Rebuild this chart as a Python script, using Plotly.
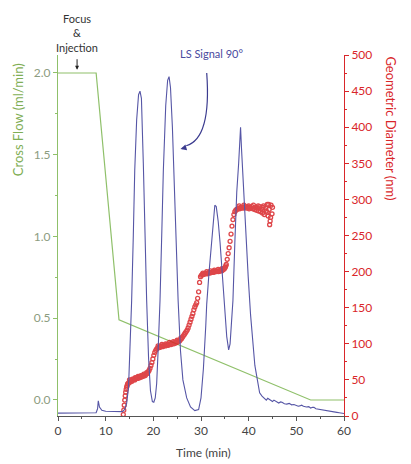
import plotly.graph_objects as go

# ---------------- data ----------------
flow_time = [0, 8.0, 12.8, 53.0, 60]
flow_vals = [2.0, 2.0, 0.49, 0.0, 0.0]

ls_time = [0, 4, 8.0, 8.3, 8.45, 8.7, 9.2, 10, 12, 13.5, 14.0, 14.4, 14.8, 15.2, 15.45, 15.8, 16.1, 16.5, 16.9,
           17.2, 17.5, 17.9, 18.2, 18.6, 19.0, 19.4, 19.8, 20.1, 20.4, 20.7, 21.0, 21.4, 21.8, 22.1, 22.6, 23.0,
           23.3, 23.6, 24.0, 24.3, 24.7, 25.2, 25.7, 26.2, 27.0, 27.8, 28.7, 29.5, 30.0, 30.5, 31.0, 31.2, 31.7,
           32.2, 32.6, 32.9, 33.2, 33.6, 34.0, 34.5, 35.0, 35.4, 35.8, 36.1, 36.4, 36.7, 37.1, 37.5, 37.9, 38.1,
           38.3, 38.5, 38.8, 39.2, 39.5, 39.9, 40.4, 40.9, 41.3, 41.7, 42.0, 42.3, 42.8, 43.3, 43.7, 44.0, 44.4,
           44.7, 45.0, 45.3, 45.6, 46.0, 46.3, 46.7, 47.0, 47.5, 48.0, 48.5, 49.0, 49.5, 50.0, 50.4, 50.7, 51.1,
           51.5, 52.1, 52.6, 53.0, 53.4, 53.7, 54.1, 54.5, 55.0, 55.5, 56.0, 56.5, 57.0, 57.5, 58.0, 58.5, 59.0,
           59.5, 60.0]
ls_vals = [0.008, 0.008, 0.009, 0.02, 0.042, 0.025, 0.016, 0.013, 0.012, 0.012, 0.018, 0.035, 0.08, 0.2, 0.32,
           0.50, 0.68, 0.82, 0.89, 0.90, 0.88, 0.70, 0.52, 0.32, 0.16, 0.07, 0.04, 0.038, 0.05, 0.09, 0.18, 0.32,
           0.52, 0.68, 0.86, 0.93, 0.94, 0.91, 0.80, 0.68, 0.50, 0.32, 0.18, 0.10, 0.05, 0.025, 0.015, 0.018,
           0.05, 0.13, 0.25, 0.31, 0.40, 0.48, 0.56, 0.584, 0.58, 0.54, 0.48, 0.38, 0.29, 0.22, 0.183, 0.20, 0.26,
           0.32, 0.48, 0.62, 0.70, 0.74, 0.80, 0.74, 0.66, 0.57, 0.47, 0.386, 0.28, 0.20, 0.14, 0.11, 0.08, 0.064,
           0.055, 0.050, 0.044, 0.049, 0.045, 0.041, 0.040, 0.044, 0.042, 0.037, 0.036, 0.039, 0.038, 0.034,
           0.033, 0.035, 0.031, 0.032, 0.030, 0.027, 0.028, 0.030, 0.027, 0.025, 0.026, 0.022, 0.024, 0.024,
           0.020, 0.019, 0.018, 0.016, 0.015, 0.013, 0.012, 0.011, 0.011, 0.010, 0.009, 0.008, 0.007]

dia_time = [13.7, 13.8, 13.9, 14.0, 14.1, 14.2, 14.3, 14.4, 14.5, 14.6, 14.7,
            14.9, 15.1, 15.3, 15.5, 15.7, 15.9, 16.1, 16.3, 16.5, 16.7, 16.9, 17.1, 17.3, 17.5, 17.7, 17.9, 18.1,
            18.3, 18.5, 18.7, 18.9,
            19.1, 19.3, 19.5, 19.7, 19.9, 20.1, 20.3, 20.5, 20.7,
            20.9, 21.1, 21.3, 21.5, 21.7, 21.9, 22.1, 22.3, 22.5, 22.7, 22.9, 23.1, 23.3, 23.5, 23.7, 23.9, 24.1,
            24.3, 24.5, 24.7, 24.9, 25.1, 25.3, 25.5, 25.7, 25.9,
            26.1, 26.3, 26.5, 26.7, 26.9, 27.1, 27.3, 27.5, 27.7, 27.9, 28.1, 28.3, 28.5, 28.7, 28.9, 29.1, 29.3,
            29.5, 29.7, 29.9,
            30.1, 30.3, 30.5, 30.7, 30.9, 31.1, 31.3, 31.5, 31.7, 31.9, 32.1, 32.3, 32.5, 32.7, 32.9, 33.1, 33.3,
            33.5, 33.7, 33.9, 34.1, 34.3, 34.5, 34.7, 34.9, 35.1,
            35.3, 35.5, 35.7, 35.9, 36.1, 36.3, 36.5, 36.7, 36.9, 37.1, 37.3,
            37.5, 37.7, 37.9, 38.1, 38.3, 38.5, 38.7, 38.9, 39.1, 39.3, 39.5, 39.7, 39.9, 40.1, 40.3, 40.5, 40.7,
            40.9, 41.1, 41.3, 41.5, 41.7, 41.9, 42.1, 42.3, 42.5, 42.7, 42.9, 43.1, 43.3, 43.5, 43.7, 43.9, 44.1,
            44.3, 44.5, 44.7, 44.9, 44.4, 44.6, 45.0, 44.2, 43.9,
            15.0, 15.6, 16.2, 16.8, 17.4, 18.0, 18.6, 21.0, 21.8, 22.6, 23.4, 24.2, 25.0, 25.8,
            30.4, 31.2, 32.0, 32.8, 33.6, 34.4, 35.2, 38.0, 39.0, 40.0, 41.0, 42.0, 43.0]
dia_vals = [2, 8, 15, 22, 28, 33, 37, 40, 42, 44, 45,
            46, 47, 49, 48, 50, 51, 50, 52, 53, 52, 54, 53, 55, 54, 56, 55, 57, 56, 58, 59, 61,
            63, 66, 70, 74, 79, 84, 88, 91, 93,
            94, 95, 95, 96, 97, 96, 97, 98, 97, 98, 99, 98, 99, 100, 99, 100, 101, 100, 102, 101, 102, 103, 104,
            104, 106, 107,
            109, 111, 113, 115, 117, 119, 122, 126, 130, 134, 138, 142, 147, 151, 154, 157, 163, 172, 185, 193,
            195, 196, 196, 197, 197, 198, 197, 198, 199, 198, 199, 199, 200, 199, 200, 201, 200, 201, 200, 201,
            202, 201, 202, 203, 204, 206,
            210, 217, 225, 233, 242, 252, 263, 272, 279, 283, 285,
            286, 287, 288, 287, 289, 288, 289, 288, 290, 289, 288, 290, 289, 287, 289, 288, 290, 287, 288, 286,
            289, 285, 288, 284, 290, 283, 287, 281, 291, 279, 288, 284, 293, 277, 286, 270, 292, 280,
            265, 275, 289, 293, 282,
            50, 51, 53, 55, 56, 58, 60, 97, 99, 100, 102, 103, 105, 108,
            198, 200, 201, 202, 203, 204, 208, 291, 292, 291, 292, 291, 289]

x_ticks = [0, 10, 20, 30, 40, 50, 60]
flow_ticks = [0.0, 0.5, 1.0, 1.5, 2.0]
dia_ticks = [0, 50, 100, 150, 200, 250, 300, 350, 400, 450, 500]

# ---------------- style ----------------
FONT = "Liberation Sans Narrow, Lato, Arial, sans-serif"
GREEN = "#8fc06a"
GREEN_TXT = "#7fae55"
GREEN_TICK = "#8c9c80"
RED = "#d9262a"
BLUE = "#5656a6"
DARK = "#444444"

fig = go.Figure()

fig.add_trace(go.Scatter(x=flow_time, y=flow_vals, mode="lines",
                         line=dict(color=GREEN, width=1.2), yaxis="y", showlegend=False))
fig.add_trace(go.Scatter(x=ls_time, y=ls_vals, mode="lines",
                         line=dict(color=BLUE, width=1.1), yaxis="y3", showlegend=False))
fig.add_trace(go.Scatter(x=dia_time, y=dia_vals, mode="markers",
                         marker=dict(symbol="circle-open", size=4, color=RED, line=dict(width=1.3)),
                         opacity=0.85, yaxis="y2", showlegend=False))

fig.update_layout(
    width=411, height=464,
    margin=dict(l=58, r=67, t=55, b=48),
    paper_bgcolor="white", plot_bgcolor="white",
    font=dict(family=FONT, size=12, color=DARK),
    xaxis=dict(range=[0, 60], tickvals=x_ticks, ticks="outside", ticklen=4, tickcolor="#555",
               showline=True, linecolor="#555", linewidth=1, showgrid=False, zeroline=False,
               tickfont=dict(size=12, color=DARK),
               minor=dict(dtick=5, ticklen=2, tickcolor="#555", ticks="outside")),
    yaxis=dict(range=[-0.098, 2.110], tickvals=flow_ticks, ticktext=["0.0", "0.5", "1.0", "1.5", "2.0"],
               ticks="outside", ticklen=4, tickcolor=GREEN, showline=True, linecolor=GREEN, linewidth=1.2,
               showgrid=False, zeroline=False, tickfont=dict(size=12, color=GREEN_TICK),
               minor=dict(dtick=0.25, tick0=0, ticklen=2, tickcolor=GREEN, ticks="outside")),
    yaxis2=dict(range=[0, 500], tickvals=dia_ticks, overlaying="y", side="right", anchor="x",
                ticks="outside", ticklen=4, tickcolor=RED, showline=True, linecolor=RED, linewidth=1,
                showgrid=False, zeroline=False, tickfont=dict(size=12, color=RED),
                minor=dict(dtick=25, tick0=0, ticklen=2, tickcolor=RED, ticks="outside")),
    yaxis3=dict(range=[0, 1], overlaying="y", visible=False),
)

# axis titles as annotations
fig.add_annotation(text="Cross Flow (ml/min)", xref="paper", yref="paper",
                   x=-0.139, y=0.82, xanchor="center", yanchor="middle", textangle=-90,
                   showarrow=False, font=dict(size=13, color=GREEN_TXT))
fig.add_annotation(text="Geometric Diameter (nm)", xref="paper", yref="paper",
                   x=1.165, y=0.796, xanchor="center", yanchor="middle", textangle=90,
                   showarrow=False, font=dict(size=13, color=RED))
fig.add_annotation(text="Time (min)", xref="paper", yref="paper",
                   x=0.51, y=-0.101, xanchor="center", yanchor="middle",
                   showarrow=False, font=dict(size=12, color=DARK))

# Focus & Injection
fig.add_annotation(text="Focus<br>&<br>Injection", xref="x", yref="paper",
                   x=4.0, y=1.061, xanchor="center", yanchor="middle", showarrow=False,
                   font=dict(size=11, color="#333"))
fig.add_annotation(text="", xref="x", yref="y", x=4.0, y=2.02, ax=0, ay=-12,
                   showarrow=True, arrowhead=2, arrowsize=0.8, arrowwidth=1, arrowcolor="#222")

# LS Signal label + curved arrow
fig.add_annotation(text="LS Signal 90°", xref="x", yref="paper",
                   x=32.3, y=1.003, xanchor="center", yanchor="middle", showarrow=False,
                   font=dict(size=11, color="#4a4a9e"))
fig.add_shape(type="path", xref="x", yref="y",
              path="M 31.2,2.00 Q 32.2,1.60 26.9,1.555",
              line=dict(color="#3b3b8f", width=1.2))
fig.add_annotation(text="", xref="x", yref="y", x=25.7, y=1.535, ax=7, ay=-2,
                   showarrow=True, arrowhead=2, arrowsize=1, arrowwidth=1.2, arrowcolor="#3b3b8f")

fig.write_html("out.html", config={"displayModeBar": False},
               post_script="document.body.style.margin='0';document.body.style.overflow='hidden';")
